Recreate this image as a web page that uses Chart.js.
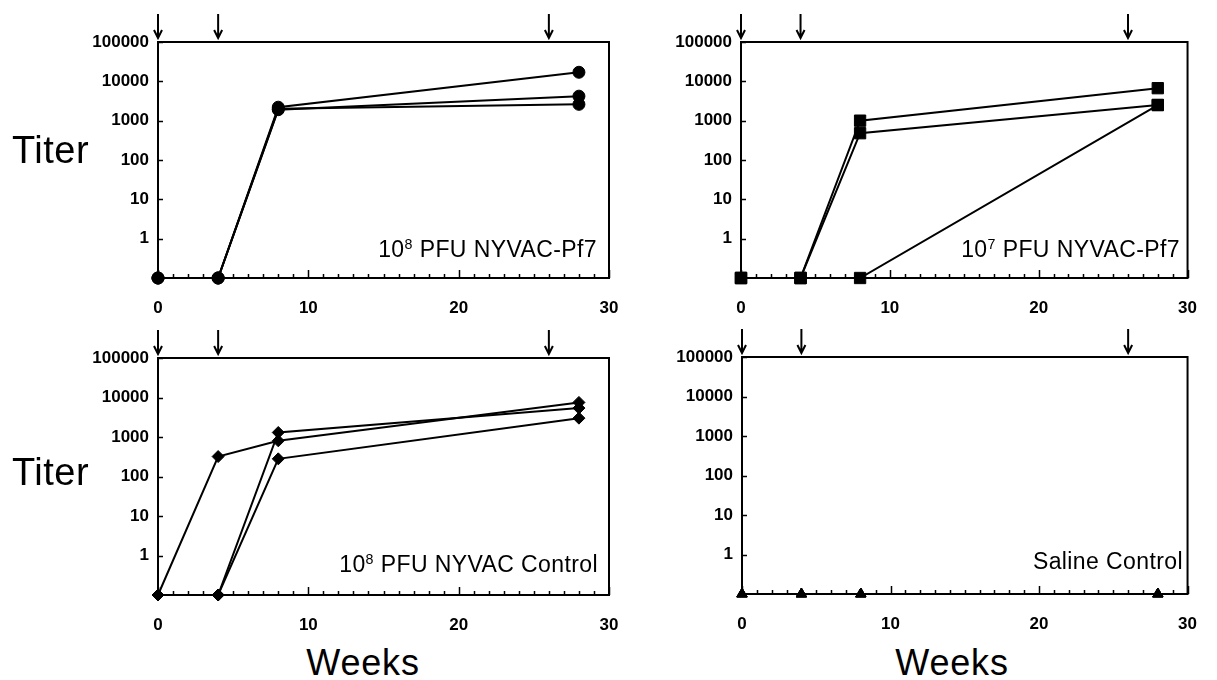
<!DOCTYPE html>
<html>
<head>
<meta charset="utf-8">
<script src="https://cdn.jsdelivr.net/npm/chart.js@4.4.1/dist/chart.umd.min.js"></script>
<style>
  html, body { margin: 0; padding: 0; background: #fff; }
  body { width: 1217px; height: 680px; position: relative; overflow: hidden;
         font-family: "Liberation Sans", Arial, Helvetica, sans-serif; color: #000; }
  canvas { position: absolute; }
  .big { position: absolute; line-height: 1; white-space: nowrap; }
  .titer { font-size: 38px; left: 12px; letter-spacing: 0.5px; }
  .weeks { font-size: 36px; width: 200px; text-align: center; letter-spacing: 0.8px; }
  .plabel { position: absolute; font-size: 23px; line-height: 1; white-space: nowrap; text-align: right; letter-spacing: 0.4px; }
  .plabel sup { font-size: 0.62em; vertical-align: baseline; position: relative; top: -0.55em; }
</style>
</head>
<body>
<canvas id="c1" width="560" height="320" style="left:80px;top:0px;"></canvas>
<canvas id="c2" width="557" height="320" style="left:660px;top:0px;"></canvas>
<canvas id="c3" width="560" height="320" style="left:80px;top:316px;"></canvas>
<canvas id="c4" width="557" height="320" style="left:660px;top:316px;"></canvas>

<div class="big titer" style="top:131px;">Titer</div>
<div class="big titer" style="top:453px;">Titer</div>
<div class="big weeks" style="left:263px;top:645px;">Weeks</div>
<div class="big weeks" style="left:852px;top:645px;">Weeks</div>

<div class="plabel" style="right:620px;top:238px;">10<sup>8</sup> PFU NYVAC-Pf7</div>
<div class="plabel" style="right:37px;top:238px;">10<sup>7</sup> PFU NYVAC-Pf7</div>
<div class="plabel" style="right:619px;top:553px;">10<sup>8</sup> PFU NYVAC Control</div>
<div class="plabel" style="right:34px;top:550px;">Saline Control</div>

<script>
// ---- data ----
const weeks = [0, 4, 8, 28];
const doseWeeks = [0, 4, 26];
const yTickValues = [0.1, 1, 10, 100, 1000, 10000, 100000];
const yTickLabels = ['', '1', '10', '100', '1000', '10000', '100000'];
const xTickStep = 10;

// 10^8 PFU NYVAC-Pf7 (circles)
const pf7High1 = [0.1, 0.1, 2200, 17000];
const pf7High2 = [0.1, 0.1, 1900, 4200];
const pf7High3 = [0.1, 0.1, 2000, 2600];
// 10^7 PFU NYVAC-Pf7 (squares)
const pf7Low1 = [0.1, 0.1, 1000, 6700];
const pf7Low2 = [0.1, 0.1, 480, 2500];
const pf7Low3 = [0.1, 0.1, 0.1, 2500];
// 10^8 PFU NYVAC Control (diamonds)
const nyvac1 = [0.1, 320, 800, 7500];
const nyvac2 = [0.1, 0.1, 1300, 5400];
const nyvac3 = [0.1, 0.1, 280, 3000];
// Saline Control (triangles)
const saline1 = [0.1, 0.1, 0.1, 0.1];
const saline2 = [0.1, 0.1, 0.1, 0.1];
const saline3 = [0.1, 0.1, 0.1, 0.1];

// ---- drawing helpers ----
const FONT = { family: '"Liberation Sans", Arial, Helvetica, sans-serif', size: 17, weight: 'bold' };

const framePlugin = {
  id: 'frame',
  beforeDatasetsDraw(chart) {
    const { ctx, chartArea: a, scales: { x, y } } = chart;
    ctx.save();
    ctx.strokeStyle = '#000';
    ctx.lineCap = 'butt';
    ctx.lineWidth = 2;
    ctx.strokeRect(a.left, a.top, a.right - a.left, a.bottom - a.top);
    ctx.lineWidth = 1.5;
    ctx.beginPath();
    for (let w = x.min; w <= x.max; w++) {
      const px = Math.round(x.getPixelForValue(w)) + 0.5;
      const len = (w % xTickStep === 0) ? 8 : 4;
      ctx.moveTo(px, a.bottom);
      ctx.lineTo(px, a.bottom - len);
    }
    yTickValues.forEach(v => {
      if (v < 1) return;
      const py = Math.round(y.getPixelForValue(v)) + 0.5;
      ctx.moveTo(a.left, py);
      ctx.lineTo(a.left + 5, py);
    });
    ctx.stroke();
    ctx.restore();
  },
  afterDraw(chart) {
    const { ctx, chartArea: a, scales: { x } } = chart;
    ctx.save();
    ctx.strokeStyle = '#000';
    ctx.lineWidth = 2;
    doseWeeks.forEach(w => {
      const px = x.getPixelForValue(w);
      ctx.beginPath();
      ctx.moveTo(px, a.top - 28);
      ctx.lineTo(px, a.top - 4);
      ctx.moveTo(px - 4, a.top - 12);
      ctx.lineTo(px, a.top - 4);
      ctx.lineTo(px + 4, a.top - 12);
      ctx.stroke();
    });
    ctx.restore();
  }
};

function makeDataset(values, style, radius) {
  return {
    data: weeks.map((w, i) => ({ x: w, y: values[i] })),
    borderColor: '#000',
    backgroundColor: '#000',
    borderWidth: 2,
    pointStyle: style,
    pointRadius: radius,
    pointBorderWidth: 1,
    pointBackgroundColor: '#000',
    pointBorderColor: '#000',
    tension: 0,
    clip: false
  };
}

function makeChart(id, seriesList, style, radius, layout) {
  new Chart(document.getElementById(id), {
    type: 'line',
    data: { datasets: seriesList.map(s => makeDataset(s, style, radius)) },
    plugins: [framePlugin],
    options: {
      responsive: false,
      animation: false,
      devicePixelRatio: 1,
      layout: { padding: { top: layout.top, right: layout.right, left: 0, bottom: 0 } },
      plugins: { legend: { display: false }, tooltip: { enabled: false } },
      scales: {
        x: {
          type: 'linear', min: 0, max: 30,
          grid: { display: false, drawTicks: false },
          border: { display: false },
          ticks: { stepSize: xTickStep, color: '#000', font: FONT, padding: 20, maxRotation: 0 },
          afterFit: s => { s.height = layout.xh; }
        },
        y: {
          type: 'logarithmic', min: 0.1, max: 100000,
          grid: { display: false, drawTicks: false },
          border: { display: false },
          afterBuildTicks: s => { s.ticks = yTickValues.map(v => ({ value: v })); },
          ticks: {
            color: '#000', font: FONT, padding: 9, autoSkip: false,
            callback: v => { const i = yTickValues.findIndex(t => Math.abs(t - v) < 1e-9); return i >= 0 ? yTickLabels[i] : ''; }
          },
          afterFit: s => { s.width = layout.yw; }
        }
      }
    }
  });
}

makeChart('c1', [pf7High1, pf7High2, pf7High3], 'circle', 6, { top: 42, right: 31, xh: 42, yw: 78 });
makeChart('c2', [pf7Low1, pf7Low2, pf7Low3], 'rect', 8, { top: 42, right: 25, xh: 42, yw: 81 });
makeChart('c3', [nyvac1, nyvac2, nyvac3], 'rectRot', 6, { top: 42, right: 31, xh: 41, yw: 78 });
makeChart('c4', [saline1, saline2, saline3], 'triangle', 6, { top: 41, right: 24, xh: 42, yw: 82 });
</script>
</body>
</html>
